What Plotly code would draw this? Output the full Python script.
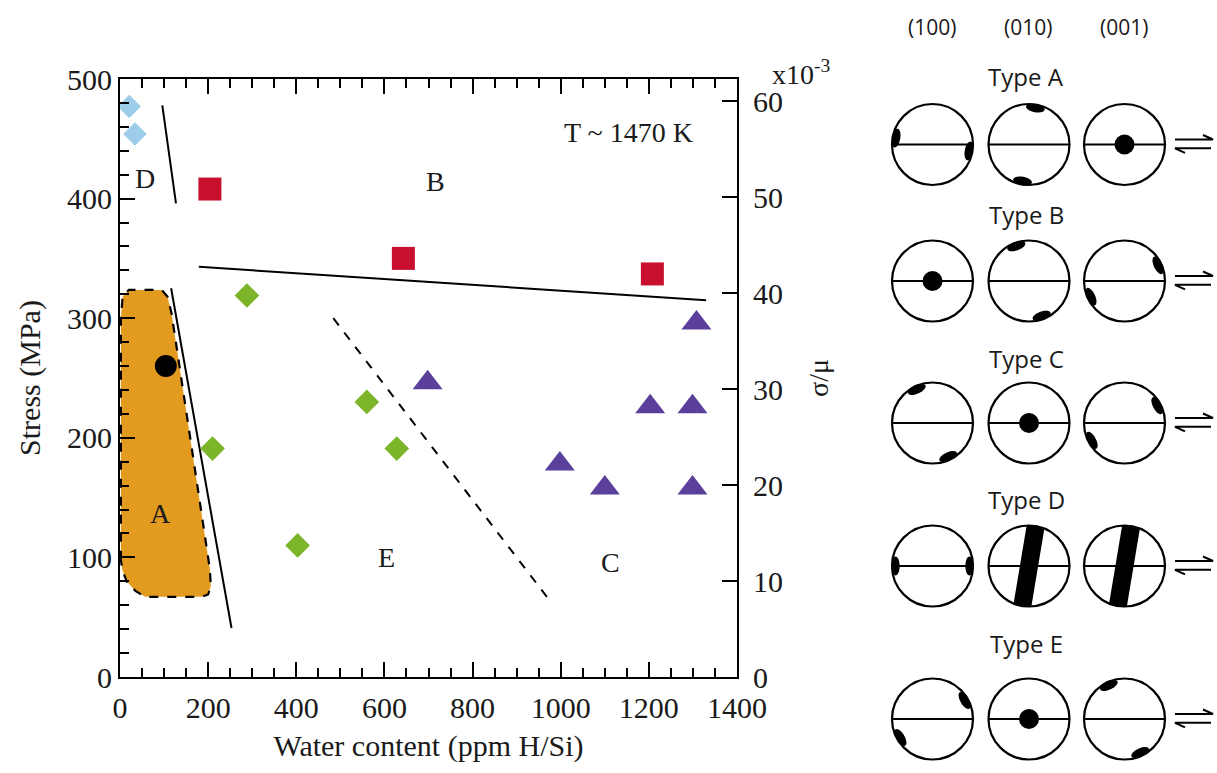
import math
import plotly.graph_objects as go

W, H = 1217, 773
OFF = 0  # page body margin removed via post_script

# ---------------- data: main diagram ----------------
typeD_water = [21, 34]
typeD_stress = [477, 454]
typeB_water = [204, 643, 1208]
typeB_stress = [408, 350, 337]
typeE_water = [288, 210, 403, 560, 628]
typeE_stress = [319, 191, 110, 230, 191]
typeA_water = [104]
typeA_stress = [260]
typeC_water = [698, 998, 1100, 1203, 1299, 1299, 1308]
typeC_stress = [246, 178, 158, 226, 226, 158, 296]

regionA_water = [2, 2, 6, 20, 95, 108, 117, 204, 206, 200, 185, 57, 35, 15, 5, 2]
regionA_stress = [98, 300, 318, 323.6, 323.6, 318, 304, 90, 76, 69, 67, 67, 72, 80, 90, 98]

boundary_D_water = [96, 127]
boundary_D_stress = [478, 396]
boundary_B_water = [179, 1330]
boundary_B_stress = [343, 315]
boundary_A_water = [116, 253]
boundary_A_stress = [325, 41]
boundary_EC_water = [484, 977]
boundary_EC_stress = [300, 63]

region_labels = ["D", "B", "A", "E", "C"]
region_label_water = [57, 717, 93, 604, 1112]
region_label_stress = [417, 414, 137, 100, 96]

sigma_mu_max = 62.3  # x10^-3 at 500 MPa

# ---------------- data: pole figures ----------------
planes = ["(100)", "(010)", "(001)"]
pole_types = ["Type A", "Type B", "Type C", "Type D", "Type E"]
typeA_kind = ["pair", "pair", "dot"]
typeA_angle = [170, 80, None]
typeB_kind = ["dot", "pair", "pair"]
typeB_angle = [None, 110, 25]
typeC_kind = ["pair", "dot", "pair"]
typeC_angle = [115, None, 28]
typeD_kind = ["pair", "girdle", "girdle"]
typeD_angle = [180, 80.5, 80.5]
typeE_kind = ["pair", "dot", "pair"]
typeE_angle = [30, None, 115]
pole_kinds = [typeA_kind, typeB_kind, typeC_kind, typeD_kind, typeE_kind]
pole_angles = [typeA_angle, typeB_angle, typeC_angle, typeD_angle, typeE_angle]

# ---------------- layout constants (page pixels) ----------------
SERIF = "Liberation Serif"
SANS = "Open Sans"
INK = "#1a1a1a"
x_dom = [(120 - OFF) / W, (737 - OFF) / W]
y_dom = [1 - (677 - OFF) / H, 1 - (79 - OFF) / H]
p_dom = [0.70, 1.0]
col_cx = [932.5, 1029, 1124.5]
row_cy = [144.5, 281, 423, 566, 719]
type_label_y = [76, 214, 358, 499, 643]
header_y = 27
type_label_x = 1026
R = 40.5

fig = go.Figure()

# region A fill
fig.add_trace(go.Scatter(x=regionA_water, y=regionA_stress, mode="lines", fill="toself",
                         fillcolor="#E39B1F", line=dict(color="black", width=2.2, dash="dash"),
                         hoverinfo="skip", showlegend=False))
# boundaries
for bx, by, dash in [(boundary_D_water, boundary_D_stress, "solid"),
                     (boundary_B_water, boundary_B_stress, "solid"),
                     (boundary_A_water, boundary_A_stress, "solid"),
                     (boundary_EC_water, boundary_EC_stress, "dash")]:
    fig.add_trace(go.Scatter(x=bx, y=by, mode="lines",
                             line=dict(color="black", width=2, dash=dash),
                             hoverinfo="skip", showlegend=False))

# markers
fig.add_trace(go.Scatter(x=typeD_water, y=typeD_stress, mode="markers", name="D",
                         marker=dict(symbol="diamond", size=18, color="#9DCDE8"), showlegend=False))
fig.add_trace(go.Scatter(x=typeB_water, y=typeB_stress, mode="markers", name="B",
                         marker=dict(symbol="square", size=23, color="#C8102E"), showlegend=False))
fig.add_trace(go.Scatter(x=typeE_water, y=typeE_stress, mode="markers", name="E",
                         marker=dict(symbol="diamond", size=19, color="#7DB52A"), showlegend=False))
fig.add_trace(go.Scatter(x=typeA_water, y=typeA_stress, mode="markers", name="A",
                         marker=dict(symbol="circle", size=22, color="black"), showlegend=False))
fig.add_trace(go.Scatter(x=typeC_water, y=typeC_stress, mode="markers", name="C",
                         marker=dict(symbol="triangle-up", size=26, color="#5A3F9B"), showlegend=False))

# secondary axis trace (sigma/mu scale)
fig.add_trace(go.Scatter(x=[0], y=[0], yaxis="y3", xaxis="x", mode="markers",
                         marker=dict(size=0.1, opacity=0), hoverinfo="skip", showlegend=False))
# pole panel trace (anchors the schematic axes)
fig.add_trace(go.Scatter(x=[col_cx[0]], y=[row_cy[0]], xaxis="x2", yaxis="y2", mode="markers",
                         marker=dict(size=0.1, opacity=0), hoverinfo="skip", showlegend=False))

annotations = []
for lab, lx, ly in zip(region_labels, region_label_water, region_label_stress):
    annotations.append(dict(x=lx, y=ly, xref="x", yref="y", text=lab, showarrow=False,
                            font=dict(family=SERIF, size=28, color=INK)))
annotations.append(dict(x=1153, y=455, xref="x", yref="y", text="T ~ 1470 K", showarrow=False,
                        font=dict(family=SERIF, size=28, color=INK)))
annotations.append(dict(x=(770 - OFF) / W, y=1 - (72 - OFF) / H, xref="paper", yref="paper",
                        xanchor="left", yanchor="middle", text="x10<sup>-3</sup>", showarrow=False,
                        font=dict(family=SERIF, size=28, color=INK)))

# ---------------- pole figures ----------------
shapes = []
LW = 2.2


def poly_path(pts):
    return "M " + " L ".join(f"{x:.2f},{y:.2f}" for x, y in pts) + " Z"


def blob(cx, cy, ang):
    a = math.radians(ang)
    rr = R - 3.5
    bx, by = cx + rr * math.cos(a), cy - rr * math.sin(a)
    tx, ty = -math.sin(a), -math.cos(a)
    rx, ry = math.cos(a), -math.sin(a)
    pts = []
    for k in range(28):
        ph = 2 * math.pi * k / 28
        pts.append((bx + 9.5 * math.cos(ph) * tx + 4.2 * math.sin(ph) * rx,
                    by + 9.5 * math.cos(ph) * ty + 4.2 * math.sin(ph) * ry))
    return poly_path(pts)


def girdle(cx, cy, ang, h=9.0):
    rr = R - 0.5
    d = math.degrees(math.asin(h / rr))
    pts = []
    for seg_start in (ang - d, ang + 180 - d):
        for k in range(9):
            p = math.radians(seg_start + 2 * d * k / 8)
            pts.append((cx + rr * math.cos(p), cy - rr * math.sin(p)))
    return poly_path(pts)


for i, (kinds, angs) in enumerate(zip(pole_kinds, pole_angles)):
    cy = row_cy[i]
    for j, (kind, ang) in enumerate(zip(kinds, angs)):
        cx = col_cx[j]
        if kind == "pair":
            for aa in (ang, ang + 180):
                shapes.append(dict(type="path", xref="x2", yref="y2", path=blob(cx, cy, aa),
                                   fillcolor="black", line=dict(width=0)))
        elif kind == "girdle":
            shapes.append(dict(type="path", xref="x2", yref="y2", path=girdle(cx, cy, ang),
                               fillcolor="black", line=dict(width=0)))
        elif kind == "dot":
            shapes.append(dict(type="circle", xref="x2", yref="y2", x0=cx - 10, x1=cx + 10,
                               y0=cy - 10, y1=cy + 10, fillcolor="black", line=dict(width=0)))
        shapes.append(dict(type="line", xref="x2", yref="y2", x0=cx - R, x1=cx + R, y0=cy, y1=cy,
                           line=dict(color="black", width=LW)))
        shapes.append(dict(type="circle", xref="x2", yref="y2", x0=cx - R, x1=cx + R,
                           y0=cy - R, y1=cy + R, line=dict(color="black", width=LW)))
    # equilibrium arrows
    x1, x2 = 1175, 1213
    shapes.append(dict(type="path", xref="x2", yref="y2",
                       path=f"M {x1},{cy-5} L {x2},{cy-5} L {x2-10},{cy-9.5}",
                       line=dict(color="black", width=2)))
    shapes.append(dict(type="path", xref="x2", yref="y2",
                       path=f"M {x2-2},{cy+3.8} L {x1},{cy+3.8} L {x1+10},{cy+8.3}",
                       line=dict(color="black", width=2)))
    annotations.append(dict(x=type_label_x, y=type_label_y[i], xref="x2", yref="y2",
                            text=pole_types[i], showarrow=False,
                            font=dict(family=SANS, size=24, color=INK)))

for j, pl in enumerate(planes):
    annotations.append(dict(x=col_cx[j] - 1, y=header_y, xref="x2", yref="y2", text=pl,
                            showarrow=False, font=dict(family=SANS, size=21, color=INK)))

tickfont = dict(family=SERIF, size=30, color=INK)
fig.update_layout(
    width=W, height=H,
    margin=dict(l=0, r=0, t=0, b=0),
    paper_bgcolor="white", plot_bgcolor="white",
    showlegend=False,
    xaxis=dict(domain=x_dom, range=[0, 1400], anchor="y", dtick=200, tick0=0,
               ticks="inside", ticklen=15, tickwidth=2, tickcolor="black",
               minor=dict(dtick=50, ticklen=9, tickwidth=2, tickcolor="black", ticks="inside"),
               showline=True, linewidth=2, linecolor="black", mirror="ticks",
               showgrid=False, zeroline=False, tickfont=tickfont, automargin=False,
               ticklabelstandoff=3,
               title=dict(text="Water content (ppm H/Si)", font=tickfont, standoff=12)),
    yaxis=dict(domain=y_dom, range=[0, 500], anchor="x", dtick=100, tick0=0,
               ticks="inside", ticklen=15, tickwidth=2, tickcolor="black",
               minor=dict(dtick=20, ticklen=9, tickwidth=2, tickcolor="black", ticks="inside"),
               showline=True, linewidth=2, linecolor="black", mirror=False,
               showgrid=False, zeroline=False, tickfont=tickfont, automargin=False,
               title=dict(text="Stress (MPa)", font=tickfont, standoff=18)),
    yaxis3=dict(domain=y_dom, range=[0, sigma_mu_max], overlaying="y", side="right", anchor="x",
                dtick=10, tick0=0, ticks="inside", ticklen=15, tickwidth=2, tickcolor="black",
                showline=True, linewidth=2, linecolor="black", showgrid=False, zeroline=False,
                tickfont=tickfont, automargin=False, ticklabelstandoff=8,
                title=dict(text="σ/μ", font=dict(family=SERIF, size=28, color=INK), standoff=26)),
    xaxis2=dict(domain=p_dom, range=[p_dom[0] * W + OFF, p_dom[1] * W + OFF], anchor="y2",
                visible=False, fixedrange=True),
    yaxis2=dict(domain=[0, 1], range=[H + OFF, OFF], anchor="x2", visible=False, fixedrange=True),
    shapes=shapes,
    annotations=annotations,
)

fig.write_html("out.html", config={"displayModeBar": False},
               post_script="document.body.style.margin='0';document.body.style.overflow='hidden';")
